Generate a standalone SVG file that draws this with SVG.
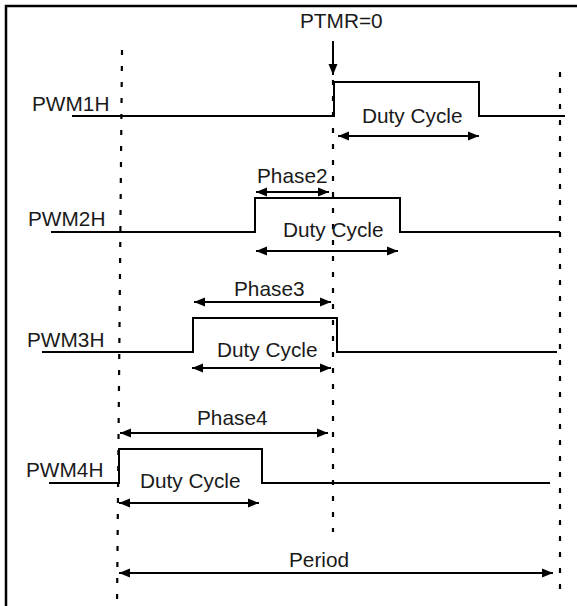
<svg xmlns="http://www.w3.org/2000/svg" width="577" height="606" viewBox="0 0 577 606">
<style>
text{font-family:"Liberation Sans",Arial,sans-serif;font-size:20.8px;fill:#1a1a1a}
.sig{fill:none;stroke:#000;stroke-width:2}
.dash{fill:none;stroke:#000;stroke-width:2.2;stroke-dasharray:5 11}
.dim{fill:none;stroke:#000;stroke-width:2;marker-start:url(#ah);marker-end:url(#ah)}
</style>
<defs>
<marker id="ah" markerUnits="userSpaceOnUse" markerWidth="12" markerHeight="10" refX="11" refY="5" orient="auto-start-reverse">
<path d="M0,0.5 L11,5 L0,9.5 z" fill="#000"/>
</marker>
</defs>
<rect width="577" height="606" fill="#fff"/>
<path d="M6,606 V6 H577" fill="none" stroke="#000" stroke-width="2.5"/>
<g id="gridlines">
<line class="dash" x1="122" y1="50" x2="117" y2="606"/>
<line class="dash" x1="333" y1="80" x2="333" y2="532"/>
<line class="dash" x1="560" y1="72" x2="560" y2="590"/>
</g>
<g id="ptmr">
<text x="300" y="28">PTMR=0</text>
</g>
<g id="pwm1h">
<text x="32" y="111">PWM1H</text>
<path class="sig" d="M72,116 H334 V82 H479 V116 H565"/>
<text x="362" y="123">Duty Cycle</text>
</g>
<g id="pwm2h">
<text x="28" y="226">PWM2H</text>
<path class="sig" d="M51,232 H255 V198 H400 V232 H560"/>
<text x="257" y="183">Phase2</text>
<text x="283" y="237">Duty Cycle</text>
</g>
<g id="pwm3h">
<text x="27" y="347">PWM3H</text>
<path class="sig" d="M42,352 H193 V318 H337 V352 H557"/>
<text x="234" y="296">Phase3</text>
<text x="217" y="357">Duty Cycle</text>
</g>
<g id="pwm4h">
<text x="26" y="477">PWM4H</text>
<path class="sig" d="M49,483 H119 V449 H262 V483 H550"/>
<text x="197" y="425">Phase4</text>
<text x="140" y="488">Duty Cycle</text>
</g>
<g id="period">
<text x="289" y="567">Period</text>
</g>
<g id="connectors">
<line x1="333" y1="41" x2="333" y2="75" stroke="#000" stroke-width="2" marker-end="url(#ah)"/>
<line class="dim" x1="338" y1="136" x2="479" y2="136"/>
<line class="dim" x1="256" y1="192" x2="329" y2="192"/>
<line class="dim" x1="256" y1="251" x2="398" y2="251"/>
<line class="dim" x1="194" y1="302" x2="331" y2="302"/>
<line class="dim" x1="192" y1="368" x2="331" y2="368"/>
<line class="dim" x1="120" y1="433" x2="328" y2="433"/>
<line class="dim" x1="119" y1="503" x2="259" y2="503"/>
<line class="dim" x1="119" y1="573" x2="553" y2="573"/>
</g>
</svg>
